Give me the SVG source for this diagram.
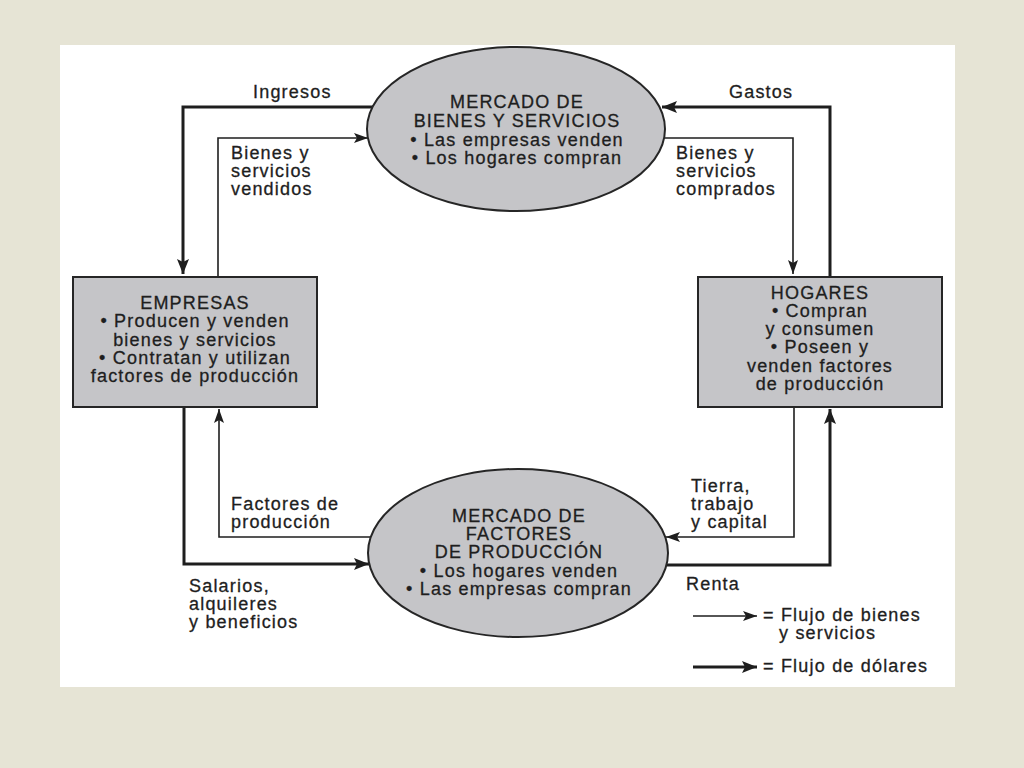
<svg xmlns="http://www.w3.org/2000/svg" width="1024" height="768" viewBox="0 0 1024 768">
<style>
text{font-family:"Liberation Sans",Arial,sans-serif;font-size:18px;letter-spacing:1.2px;fill:#1e1e1e;stroke:#1e1e1e;stroke-width:0.3px}
.c{text-anchor:middle}
.node{fill:#c5c5c8;stroke:#262626;stroke-width:2}
.thin{fill:none;stroke:#1e1e1e;stroke-width:1.6}
.thick{fill:none;stroke:#1e1e1e;stroke-width:3}
</style>
<defs>
<marker id="aThin" markerUnits="userSpaceOnUse" markerWidth="16" markerHeight="12" refX="14" refY="5" orient="auto">
<path d="M0,0 L14,5 L0,10 L3,5 Z" fill="#1e1e1e"/>
</marker>
<marker id="aThick" markerUnits="userSpaceOnUse" markerWidth="18" markerHeight="14" refX="15" refY="6" orient="auto">
<path d="M0,0 L15,6 L0,12 L3,6 Z" fill="#1e1e1e"/>
</marker>
</defs>
<rect x="0" y="0" width="1024" height="768" fill="#e6e4d5"/>
<rect x="60" y="45" width="895" height="642" fill="#ffffff"/>

<g id="connectors">
<path class="thick" d="M373,107 H183 V274" marker-end="url(#aThick)"/>
<path class="thin" d="M218,277 V138 H368" marker-end="url(#aThin)"/>
<path class="thick" d="M830,277 V107 H662" marker-end="url(#aThick)"/>
<path class="thin" d="M664,138 H793 V274" marker-end="url(#aThin)"/>
<path class="thick" d="M184,407 V564 H369" marker-end="url(#aThick)"/>
<path class="thin" d="M371,537 H219 V409" marker-end="url(#aThin)"/>
<path class="thin" d="M794,407 V537 H666" marker-end="url(#aThin)"/>
<path class="thick" d="M667,565 H830 V409" marker-end="url(#aThick)"/>
</g>

<g id="mercado-bienes">
<ellipse class="node" cx="516" cy="129" rx="149" ry="82"/>
<text class="c" x="517" y="108">MERCADO DE</text>
<text class="c" x="517" y="127">BIENES Y SERVICIOS</text>
<text class="c" x="517" y="146">• Las empresas venden</text>
<text class="c" x="517" y="164">• Los hogares compran</text>
</g>

<g id="empresas">
<rect class="node" x="73" y="277" width="244" height="130"/>
<text class="c" x="195" y="309">EMPRESAS</text>
<text class="c" x="195" y="327">• Producen y venden</text>
<text class="c" x="195" y="346">bienes y servicios</text>
<text class="c" x="195" y="364">• Contratan y utilizan</text>
<text class="c" x="195" y="382">factores de producción</text>
</g>

<g id="hogares">
<rect class="node" x="698" y="277" width="244" height="130"/>
<text class="c" x="820" y="299">HOGARES</text>
<text class="c" x="820" y="317">• Compran</text>
<text class="c" x="820" y="335">y consumen</text>
<text class="c" x="820" y="353">• Poseen y</text>
<text class="c" x="820" y="372">venden factores</text>
<text class="c" x="820" y="390">de producción</text>
</g>

<g id="mercado-factores">
<ellipse class="node" cx="518" cy="553" rx="150" ry="84"/>
<text class="c" x="519" y="522">MERCADO DE</text>
<text class="c" x="519" y="540">FACTORES</text>
<text class="c" x="519" y="558">DE PRODUCCIÓN</text>
<text class="c" x="519" y="577">• Los hogares venden</text>
<text class="c" x="519" y="595">• Las empresas compran</text>
</g>

<g id="labels">
<text x="253" y="98">Ingresos</text>
<text x="231" y="159">Bienes y</text>
<text x="231" y="177">servicios</text>
<text x="231" y="195">vendidos</text>
<text x="729" y="98">Gastos</text>
<text x="676" y="159">Bienes y</text>
<text x="676" y="177">servicios</text>
<text x="676" y="195">comprados</text>
<text x="231" y="510">Factores de</text>
<text x="231" y="528">producción</text>
<text x="189" y="592">Salarios,</text>
<text x="189" y="610">alquileres</text>
<text x="189" y="628">y beneficios</text>
<text x="691" y="492">Tierra,</text>
<text x="691" y="510">trabajo</text>
<text x="691" y="528">y capital</text>
<text x="686" y="590">Renta</text>
</g>

<g id="legend">
<path class="thin" d="M693,616 H757" marker-end="url(#aThin)"/>
<text x="763" y="621">= Flujo de bienes</text>
<text x="779" y="639">y servicios</text>
<path class="thick" d="M693,667 H757" marker-end="url(#aThick)"/>
<text x="763" y="672">= Flujo de dólares</text>
</g>
</svg>
